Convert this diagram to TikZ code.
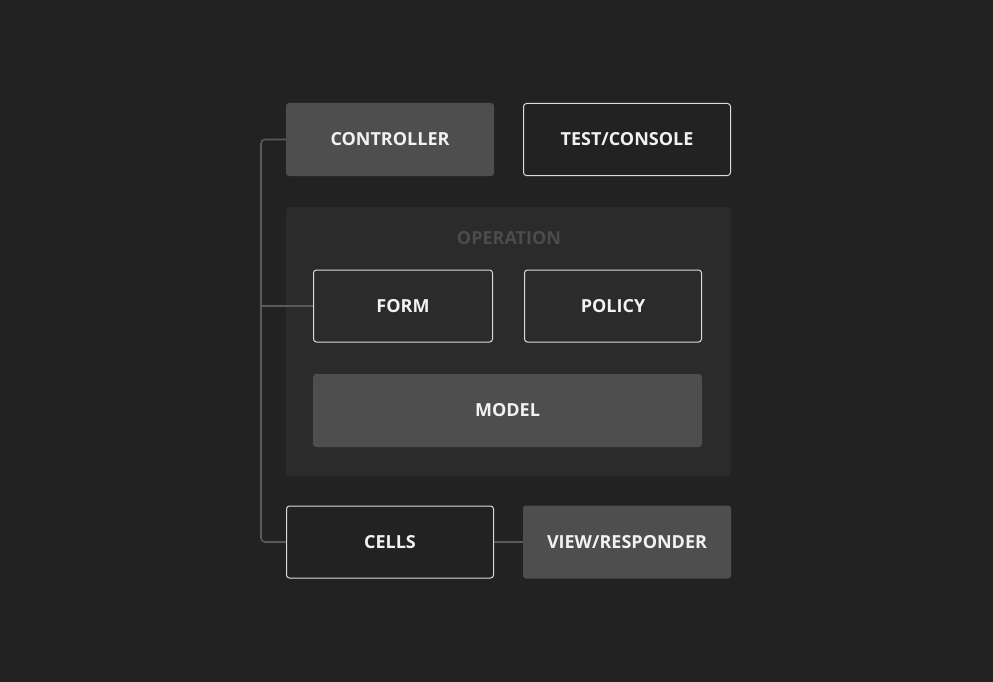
\documentclass[tikz,border=0pt]{standalone}
\usepackage{fontspec}
\setmainfont{Open Sans}
\begin{document}
\definecolor{bgc}{HTML}{222223}
\definecolor{groupc}{HTML}{2B2B2B}
\definecolor{solidc}{HTML}{4E4E4E}
\definecolor{linkc}{HTML}{5A5A5A}
\definecolor{edgec}{HTML}{DCDCDC}
\definecolor{textc}{HTML}{F2F2F2}
\definecolor{grouptextc}{HTML}{4C4C4C}
\begin{tikzpicture}[x=1pt,y=-1pt,
  base/.style={rounded corners=3pt, inner sep=0pt, text=textc,
    font=\fontsize{18}{20}\selectfont\bfseries},
  solidbox/.style={base, fill=solidc},
  outlinebox/.style={base, draw=edgec, line width=1pt},
  link/.style={draw=linkc, line width=1.6pt}]
  \fill[bgc] (0,0) rectangle (993,682);
  \useasboundingbox (0,0) rectangle (993,682);

  % operation group
  \node[fill=groupc, rounded corners=3pt, minimum width=445pt, minimum height=269pt, inner sep=0pt] (op) at (508.5,341.5) {};
  \node[text=grouptextc, font=\fontsize{18}{20}\selectfont\bfseries] (oplabel) at (509,238.5) {OPERATION};

  % boxes
  \node[solidbox, minimum width=208pt, minimum height=73pt] (ctrl) at (390,139.5) {CONTROLLER};
  \node[outlinebox, fill=bgc, minimum width=207pt, minimum height=72pt] (test) at (627,139.5) {TEST/CONSOLE};
  \node[outlinebox, fill=groupc, minimum width=179pt, minimum height=72pt] (form) at (403,306) {FORM};
  \node[outlinebox, fill=groupc, minimum width=177pt, minimum height=72pt] (policy) at (613,306) {POLICY};
  \node[solidbox, minimum width=389pt, minimum height=73pt] (model) at (507.5,410.5) {MODEL};
  \node[outlinebox, fill=bgc, minimum width=207pt, minimum height=72pt] (cells) at (390,542) {CELLS};
  \node[solidbox, minimum width=208pt, minimum height=73pt] (view) at (627,542) {VIEW/RESPONDER};

  % connectors
  \coordinate (spine) at (261,306);
  \draw[link, rounded corners=4pt] (ctrl.west) -| (spine) |- (cells.west);
  \draw[link] (form.west) -- (form.west -| spine);
  \draw[link] (cells.east) -- (cells.east -| view.west);
\end{tikzpicture}
\end{document}
